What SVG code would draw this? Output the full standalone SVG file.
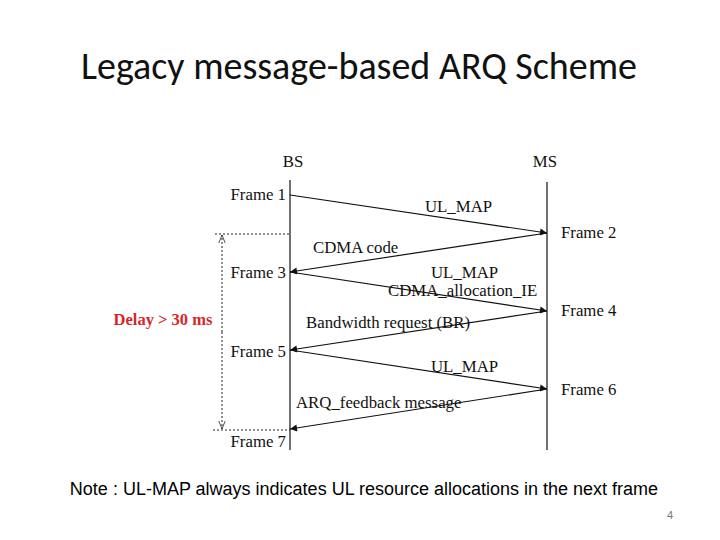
<svg xmlns="http://www.w3.org/2000/svg" width="720" height="540" viewBox="0 0 720 540">
<style>
.t{font-family:"Liberation Serif",serif;font-size:16.8px;fill:#111}
.ln{stroke:#111;stroke-width:1.2;fill:none}
.ar{stroke:#111;stroke-width:1.2;fill:none;marker-end:url(#a)}
.dt{stroke:#222;stroke-width:1;stroke-dasharray:2,2;fill:none}
</style>
<defs>
<marker id="a" viewBox="0 0 10 10" refX="10" refY="5" markerWidth="10" markerHeight="7" orient="auto" markerUnits="userSpaceOnUse"><path d="M0,0L10,5L0,10z" fill="#111"/></marker>
<marker id="o" viewBox="0 0 10 10" refX="10" refY="5" markerWidth="8" markerHeight="8" orient="auto" markerUnits="userSpaceOnUse"><path d="M0,1L10,5L0,9" fill="none" stroke="#222"/></marker>
</defs>
<rect width="720" height="540" fill="#fff"/>
<text x="359" y="79" text-anchor="middle" style="font-family:Calibri,'Liberation Sans',sans-serif;font-size:38px;fill:#111">Legacy message-based ARQ Scheme</text>
<g id="BS"><text class="t" x="293" y="167" text-anchor="middle">BS</text><line class="ln" x1="290" y1="180" x2="290" y2="450"/></g>
<g id="MS"><text class="t" x="545" y="167" text-anchor="middle">MS</text><line class="ln" x1="547" y1="182" x2="547" y2="450"/></g>
<g id="frames">
<text class="t" x="286" y="200" text-anchor="end">Frame 1</text>
<text class="t" x="561" y="238">Frame 2</text>
<text class="t" x="286" y="278" text-anchor="end">Frame 3</text>
<text class="t" x="561" y="316">Frame 4</text>
<text class="t" x="286" y="357" text-anchor="end">Frame 5</text>
<text class="t" x="561" y="395">Frame 6</text>
<text class="t" x="286" y="447" text-anchor="end">Frame 7</text>
</g>
<g id="connectors">
<line class="ar" x1="290" y1="195" x2="547" y2="233"/>
<line class="ar" x1="547" y1="233" x2="290" y2="272"/>
<line class="ar" x1="290" y1="272" x2="547" y2="311"/>
<line class="ar" x1="547" y1="311" x2="290" y2="350"/>
<line class="ar" x1="290" y1="350" x2="547" y2="389"/>
<line class="ar" x1="547" y1="389" x2="290" y2="429"/>
<line class="dt" x1="215" y1="234" x2="290" y2="234"/>
<line class="dt" x1="213" y1="430" x2="290" y2="430"/>
<line class="dt" x1="222" y1="332" x2="222" y2="235" marker-end="url(#o)"/>
<line class="dt" x1="222" y1="332" x2="222" y2="429" marker-end="url(#o)"/>
</g>
<g id="labels">
<text class="t" x="425" y="212">UL_MAP</text>
<text class="t" x="313" y="253">CDMA code</text>
<text class="t" x="431" y="278">UL_MAP</text>
<text class="t" x="388" y="296">CDMA_allocation_IE</text>
<text class="t" x="306" y="328">Bandwidth request (BR)</text>
<text class="t" x="431" y="372">UL_MAP</text>
<text class="t" x="296" y="408">ARQ_feedback message</text>
<text x="163" y="325" text-anchor="middle" style="font-family:'Liberation Serif',serif;font-size:16.5px;font-weight:bold;fill:#d7262b">Delay &gt; 30 ms</text>
</g>
<text x="364" y="495" text-anchor="middle" style="font-family:'Liberation Sans',sans-serif;font-size:18px;fill:#000">Note : UL-MAP always indicates UL resource allocations in the next frame</text>
<text x="673" y="519" text-anchor="end" style="font-family:'Liberation Sans',sans-serif;font-size:11px;fill:#777">4</text>
</svg>
